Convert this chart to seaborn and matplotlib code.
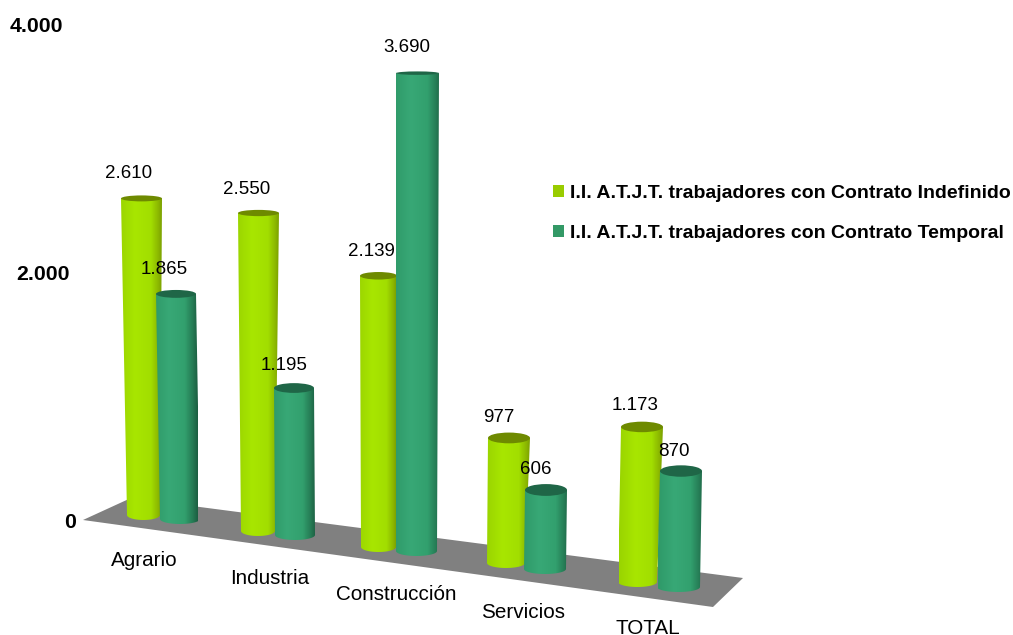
import numpy as np
import pandas as pd
import matplotlib
matplotlib.use('Agg')
import matplotlib.pyplot as plt
import seaborn as sns
from matplotlib.colors import LinearSegmentedColormap
from matplotlib.patches import Ellipse, Patch, Polygon

# === 1. Data ===
sectores = ['Agrario', 'Industria', 'Construcción', 'Servicios', 'TOTAL']
indefinido = [2610, 2550, 2139, 977, 1173]
temporal = [1865, 1195, 3690, 606, 870]
nombres = ['I.I. A.T.J.T. trabajadores con Contrato Indefinido',
           'I.I. A.T.J.T. trabajadores con Contrato Temporal']
etiquetas_y = ['4.000', '2.000', '0']

# === 2. Layout in pixels, the chart is a fake 3D perspective ===
W, H = 1013, 635
top_left = [[121, 238, 360, 488, 621], [156, 274, 396, 525, 660]]
top_right = [[162, 279, 397, 530, 663], [196, 314, 439, 567, 702]]
foot_left = [[127, 241, 361, 487, 618], [160, 275, 396, 524, 657]]
foot_right = [[160, 275, 396, 525, 657], [200, 315, 437, 566, 700]]
floor_y = [[515, 531, 547, 563, 582], [519, 535, 551, 569, 587]]
px_per_unit = [[.1213, .1247, .1268, .1280, .1322], [.1207, .1230, .1295, .1304, .1333]]

valores = [indefinido, temporal]
legend_colors = ['#99cc00', '#339966']
top_colors = ['#6e8a00', '#1f6647']
cmaps = [
    LinearSegmentedColormap.from_list('am', [(0, '#9ad400'), (.35, '#a8e600'), (.7, '#a2de00'),
                                             (.86, '#8cb800'), (1, '#6f8f00')]),
    LinearSegmentedColormap.from_list('ve', [(0, '#2f9a69'), (.35, '#38a876'), (.7, '#32a06e'),
                                             (.88, '#267d56'), (1, '#1d5f42')]),
]
gradient_x = np.linspace(0, 1, 64).reshape(1, -1)

sns.set_theme(style='white')
plt.rcParams['font.family'] = ['Liberation Sans', 'DejaVu Sans']

fig = plt.figure(figsize=(W / 100, H / 100), dpi=100, facecolor='white')


def to_px(ax):
    ax.set_xlim(0, W)
    ax.set_ylim(H, 0)
    ax.axis('off')


# === 3. Grey floor ===
floor_ax = fig.add_axes([0, 0, 1, 1])
to_px(floor_ax)
floor_ax.add_patch(Polygon([(83, 520), (131, 498), (743, 578), (713, 607)],
                           facecolor='#808080', edgecolor='none'))

# === 4. One small axes per cylinder, each with its own value scale ===
YMIN, YMAX = -100, 4000
for i, sector in enumerate(sectores):
    for s in range(2):
        valor = valores[s][i]
        left, right = top_left[s][i], top_right[s][i]
        bw = right - left
        k = px_per_unit[s][i]
        ax = fig.add_axes([(left - bw / 2) / W,
                           1 - (floor_y[s][i] - YMIN * k) / H,
                           2 * bw / W,
                           (YMAX - YMIN) * k / H])
        ax.patch.set_alpha(0)
        df = pd.DataFrame({'sector': [sector], 'valor': [valor]})
        sns.barplot(data=df, x='sector', y='valor', color=legend_colors[s],
                    width=1, saturation=1, ax=ax)
        bar = ax.patches[0]
        bar.set_visible(False)
        h = bar.get_height()

        # cylinder body: shaded image clipped to the tapered outline
        fl = (foot_left[s][i] - left) / bw - 0.5
        fr = (foot_right[s][i] - left) / bw - 0.5
        foot_semi = 5.0 / k
        t = np.linspace(np.pi, 2 * np.pi, 30)
        arc = np.column_stack([(fl + fr) / 2 + (fr - fl) / 2 * np.cos(t), foot_semi * np.sin(t)])
        outline = np.vstack([[[-0.5, h]], arc, [[0.5, h]]])
        im = ax.imshow(gradient_x, cmap=cmaps[s], aspect='auto',
                       extent=(-0.55, 0.55, YMIN, h), vmin=0, vmax=1)
        clip = Polygon(outline, transform=ax.transData, facecolor='none', edgecolor='none')
        ax.add_patch(clip)
        im.set_clip_path(clip)

        # cap of the cylinder gets rounder the lower it sits
        top_y = floor_y[s][i] - h * k
        semi = (1 + top_y / 100) / k
        ax.add_patch(Ellipse((0, h), 1.0, 2 * semi, facecolor=top_colors[s], edgecolor='none'))

        ax.set_xlim(-1, 1)
        ax.set_ylim(YMIN, YMAX)
        ax.axis('off')

# === 5. Texts and legend on top ===
top_ax = fig.add_axes([0, 0, 1, 1])
to_px(top_ax)
top_ax.patch.set_alpha(0)

val_x = [[129, 247, 371, 499, 635], [164, 284, 407, 536, 674]]
val_y = [[174, 190, 252, 417, 406], [270, 366, 48, 470, 451]]
for s in range(2):
    for i in range(5):
        txt = f'{valores[s][i]:,}'.replace(',', '.')
        top_ax.text(val_x[s][i], val_y[s][i], txt, ha='center', va='center',
                    fontsize=13.5, color='black')

cat_x = [144, 270, 396, 523, 648]
cat_y = [561, 578, 595, 612, 629]
for x, y, name in zip(cat_x, cat_y, sectores):
    top_ax.text(x, y, name, ha='center', va='center', fontsize=14.9, color='black')

ytick_x = [63, 70, 76]
ytick_y = [27, 275, 523]
for x, y, lab in zip(ytick_x, ytick_y, etiquetas_y):
    top_ax.text(x, y, lab, ha='right', va='center', fontsize=15.3,
                fontweight='bold', color='black')

handles = [Patch(facecolor=c, edgecolor='none', label=n) for c, n in zip(legend_colors, nombres)]
top_ax.legend(handles=handles, loc='upper left', bbox_to_anchor=(553 / W, 1 - 185 / H),
              bbox_transform=fig.transFigure, frameon=False, borderpad=0, borderaxespad=0,
              handlelength=0.58, handleheight=0.58, handletextpad=0.3, labelspacing=1.19,
              labelcolor='black', prop={'weight': 'bold', 'size': 14.0})

fig.savefig('out.png', dpi=100)
